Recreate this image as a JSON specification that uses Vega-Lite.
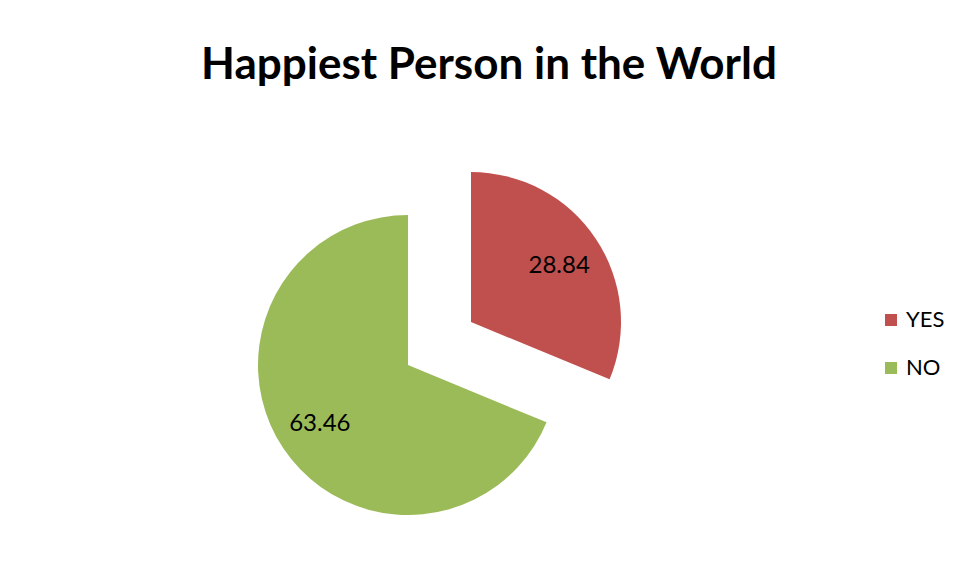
{
  "$schema": "https://vega.github.io/schema/vega-lite/v6.json",
  "autosize": {"type": "none"},
  "width": 796,
  "height": 704,
  "padding": {"left": 10, "top": 13, "right": 152, "bottom": 0},
  "background": "white",
  "config": {"view": {"stroke": null}, "font": "Lato"},
  "title": {
    "text": "Happiest Person in the World",
    "font": "Lato",
    "fontSize": 44,
    "fontWeight": "bold",
    "color": "#000000",
    "anchor": "middle",
    "dx": 81,
    "offset": -97,
    "baseline": "middle"
  },
  "data": {"values": [
    {"answer": "YES", "value": 28.84},
    {"answer": "NO", "value": 63.46}
  ]},
  "encoding": {
    "theta": {"field": "value", "type": "quantitative", "stack": true},
    "order": {"field": "answer", "sort": "descending"},
    "color": {
      "field": "answer",
      "type": "nominal",
      "scale": {"domain": ["YES", "NO"], "range": ["#C0504D", "#9BBB59"]},
      "legend": {
        "title": null,
        "orient": "none",
        "legendX": 870,
        "legendY": 296,
        "symbolType": "square",
        "symbolSize": 144,
        "symbolStrokeWidth": 0,
        "labelFont": "Lato",
        "labelFontSize": 22,
        "labelColor": "#000000",
        "labelOffset": 4,
        "rowPadding": 26
      }
    }
  },
  "layer": [
    {
      "mark": {"type": "arc", "outerRadius": 150},
      "encoding": {"fillOpacity": {"condition": {"test": "datum.answer === 'YES'", "value": 0}, "value": 1}}
    },
    {
      "mark": {"type": "arc", "outerRadius": 150, "xOffset": 63, "yOffset": -43},
      "encoding": {"fillOpacity": {"condition": {"test": "datum.answer === 'NO'", "value": 0}, "value": 1}}
    },
    {
      "mark": {"type": "text", "radius": 106, "fontSize": 24, "font": "Lato"},
      "encoding": {
        "text": {"field": "value", "type": "quantitative", "format": ".2f"},
        "color": {"value": "#000000"},
        "opacity": {"condition": {"test": "datum.answer === 'YES'", "value": 0}, "value": 1}
      }
    },
    {
      "mark": {"type": "text", "radius": 106, "fontSize": 24, "font": "Lato", "xOffset": 63, "yOffset": -40},
      "encoding": {
        "text": {"field": "value", "type": "quantitative", "format": ".2f"},
        "color": {"value": "#000000"},
        "opacity": {"condition": {"test": "datum.answer === 'NO'", "value": 0}, "value": 1}
      }
    }
  ]
}
